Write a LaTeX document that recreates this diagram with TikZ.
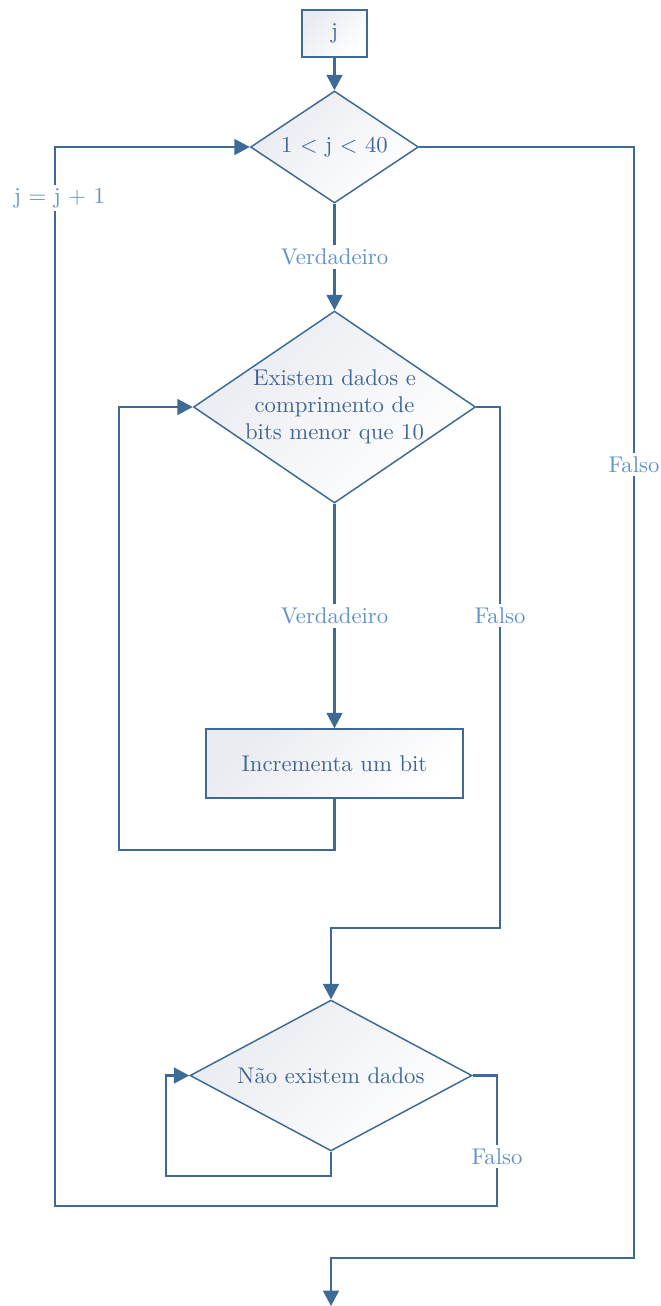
\documentclass[tikz,border=0pt]{standalone}
\usepackage{xcolor}
\usetikzlibrary{shapes.geometric,arrows.meta}
\definecolor{flowblue}{RGB}{62,106,150}
\definecolor{textblue}{RGB}{66,102,146}
\definecolor{labelblue}{RGB}{96,146,200}
\definecolor{shadegray}{RGB}{232,235,240}

\tikzset{
  decision/.style={shape=diamond, draw=flowblue, line width=0.65pt, inner sep=0pt,
    left color=shadegray, right color=white, shading angle=45, text=textblue},
  process/.style={rectangle, draw=flowblue, line width=0.65pt, inner sep=0pt,
    left color=shadegray, right color=white, shading angle=45, text=textblue},
  flow/.style={draw=flowblue, line width=0.95pt, -{Triangle[width=7pt,length=6.8pt]}},
  lbl/.style={fill=white, text=labelblue, inner sep=1.5pt},
  txt/.style={text=textblue, align=center}
}

\begin{document}
\begin{tikzpicture}[x=0.44pt, y=-0.44pt]
\useasboundingbox (0,0) rectangle (660,1306);

\node[process, minimum width=28.6pt, minimum height=20.7pt] (start) at (334.5,33.5) {j};
\node[decision, aspect=1.5, minimum width=73.9pt, minimum height=49.3pt] (d1) at (334.5,147) {1 $<$ j $<$ 40};
\node[decision, aspect=1.47, minimum width=124.1pt, minimum height=84.5pt] (d2) at (334.5,407) {};
\node[txt] (d2text) at (d2) {Existem dados e\\comprimento de\\bits menor que 10};
\node[process, minimum width=113.1pt, minimum height=30.4pt] (inc) at (334.5,763.5) {Incrementa um bit};
\node[decision, aspect=1.87, minimum width=124.1pt, minimum height=66.4pt] (d3) at (331,1075.5) {Não existem dados};

\coordinate (loopA) at (119,850);
\coordinate (turnA) at (500,928);
\coordinate (loopB) at (166,1176);
\coordinate (backR) at (497,1206);
\coordinate (backL) at (55,1206);
\coordinate (turnE) at (634,1258);
\coordinate (stop) at (331,1306);

\draw[flow] (start) -- (d1);
\draw[flow] (d1) -- node[lbl] {Verdadeiro} (d2);
\draw[flow] (d2) -- node[lbl] {Verdadeiro} (inc);
\draw[flow] (inc.south) |- (loopA) |- (d2.west);
\draw[flow] (d2.east) -| node[lbl, pos=0.70] {Falso} (turnA) -| (d3.north);
\draw[flow] (d3.south) |- (loopB) |- (d3.west);
\draw[flow] (d3.east) -| node[lbl, pos=0.81] {Falso} (backR) -- (backL)
  |- node[lbl, pos=0.476, xshift=2pt] {j $=$ j $+$ 1} (d1.west);
\draw[flow] (d1.east) -| node[lbl, pos=0.643] {Falso} (turnE) -| (stop);
\end{tikzpicture}
\end{document}
